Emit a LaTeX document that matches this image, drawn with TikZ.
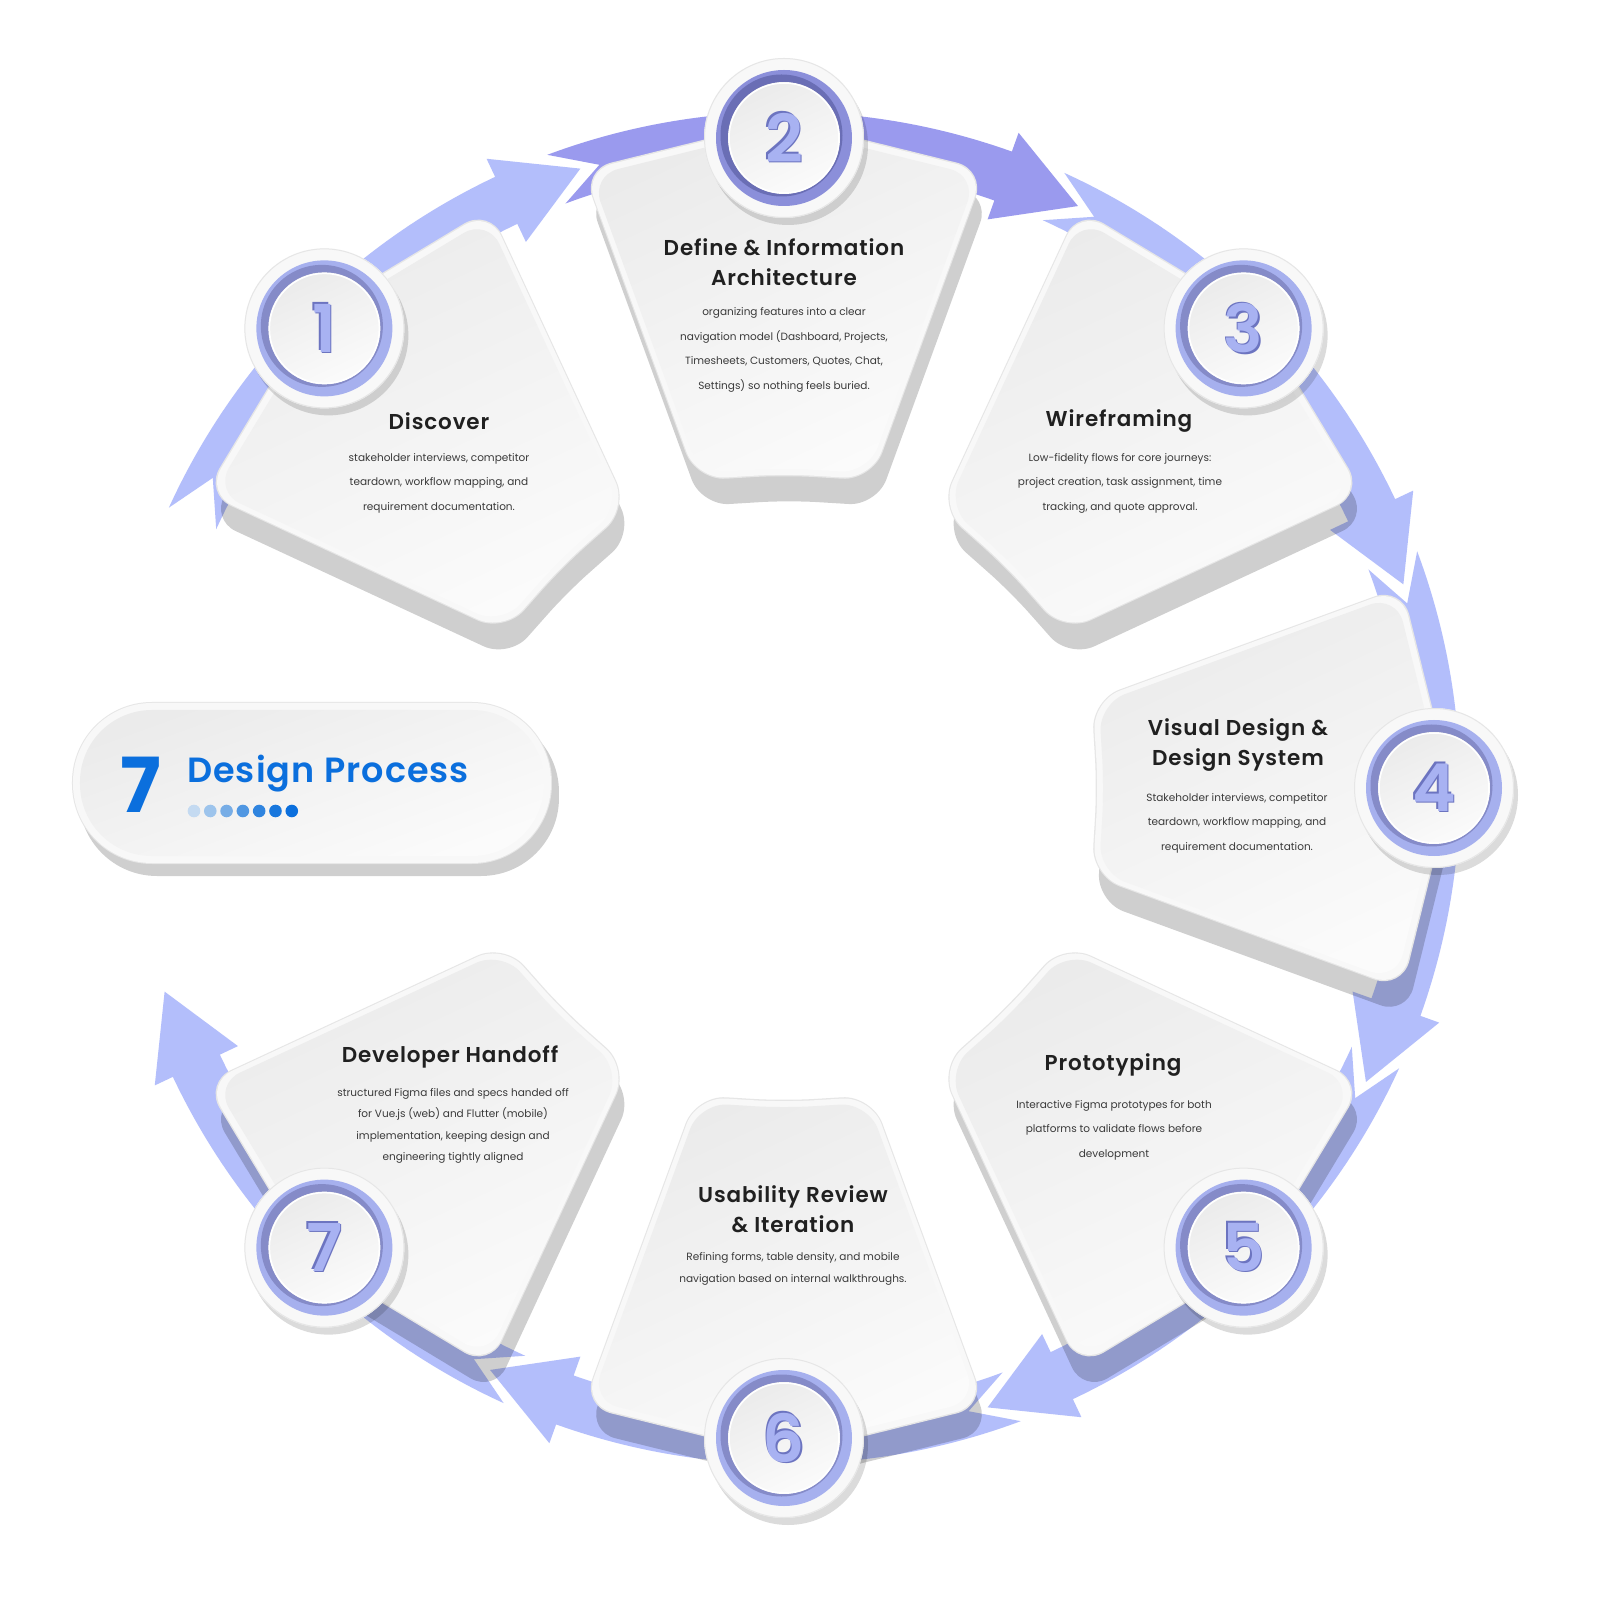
\documentclass[tikz,border=0pt]{standalone}
\usepackage{fontspec}
\setmainfont{Poppins}
\newfontfamily\headfont{Poppins SemiBold}[LetterSpace=4]
\newfontfamily\numfont{Poppins SemiBold}
\definecolor{bandlight}{HTML}{B3BEFB}
\definecolor{banddark}{HTML}{9A9AEE}
\definecolor{ringA}{HTML}{A6B0EE}
\definecolor{ringAd}{HTML}{858BC8}
\definecolor{ringB}{HTML}{8B8FDA}
\definecolor{ringBd}{HTML}{6A6EB5}
\definecolor{digitc}{HTML}{A8B2F2}
\definecolor{digitd}{HTML}{6C74C0}
\definecolor{cardA}{HTML}{EBEBEB}
\definecolor{cardB}{HTML}{FBFBFB}
\definecolor{rimc}{HTML}{F8F8F8}
\definecolor{edgec}{HTML}{E6E6E6}
\definecolor{headc}{HTML}{202020}
\definecolor{bodyc}{HTML}{3A3A3A}
\definecolor{bluec}{HTML}{0B6FDD}
\definecolor{dA}{HTML}{C4DAF1}
\definecolor{dB}{HTML}{9DC4EC}
\definecolor{dC}{HTML}{77ADE6}
\definecolor{dD}{HTML}{5097E2}
\definecolor{dE}{HTML}{2F84DF}
\definecolor{dF}{HTML}{1877DD}
\definecolor{dG}{HTML}{0B6FDD}
\tikzset{
  headtxt/.style={text=headc, align=center, font=\headfont\fontsize{21.5}{30}\selectfont},
  bodytxt/.style={text=bodyc, align=center, font=\fontsize{10.5}{24.5}\selectfont},
  digittxt/.style={font=\numfont\fontsize{66}{66}\selectfont, inner sep=0pt},
}
\newcommand\cp[1]{(#1+17.5:642) -- (#1:660) -- (#1-17.5:642) -- (#1-15:326) -- (#1:320) -- (#1+15:326) -- cycle}
\newcommand\seg[3]{%
  \fill[#3] (#1-2:676) arc[start angle=#1-2, end angle=#2+2.8, radius=676]
    -- (#2+2.8:696) -- (#2-4.3:652) -- (#2+2.8:604) -- (#2+2.8:624)
    arc[start angle=#2+2.8, end angle=#1-2, radius=624] -- (#1-6:650) -- cycle;}
\newcommand\cardshadow[1]{%
  \fill[black,opacity=0.19,rounded corners=28pt,shift={(5,-26)},scale around={1.04:(#1:480)}] \cp{#1};}
\newcommand\cardbody[1]{%
  \fill[edgec,rounded corners=30pt,scale around={1.045:(#1:480)}] \cp{#1};
  \fill[rimc,rounded corners=29pt,scale around={1.037:(#1:480)}] \cp{#1};
  \shade[top color=cardA,bottom color=cardB,shading angle=25,rounded corners=28pt] \cp{#1};}
\newcommand\badge[5]{%
  \begin{scope}[shift={(#1:650)}]
    \fill[black,opacity=.14] (4,-7) circle[radius=80];
    \fill[rimc] (0,0) circle[radius=80];
    \draw[edgec,line width=1pt] (0,0) circle[radius=79.5];
    \fill[#3] (0,0) circle[radius=68];
    \fill[#4] (-2.5,2.5) circle[radius=61];
    \shade[top color=cardA,bottom color=cardB,shading angle=25] (0,0) circle[radius=56];
    \draw[white,line width=1.5pt] (0,0) circle[radius=55];
    \node[digittxt,text=digitd] at (-1.8,1.8) {#2};
    \node[digittxt,text=digitd] at (1.2,-1.2) {#2};
    \node[digittxt,text=digitc] (#5) at (0,0) {#2};
  \end{scope}}
\begin{document}
\begin{tikzpicture}[x=1pt,y=1pt]
\useasboundingbox (-784,-812) rectangle (816,788);
\fill[white] (-784,-812) rectangle (816,788);
% arrow band
\seg{157.5}{112.5}{bandlight}
\seg{112.5}{67.5}{banddark}
\seg{67.5}{22.5}{bandlight}
\seg{22.5}{-22.5}{bandlight}
\seg{-22.5}{-67.5}{bandlight}
\seg{-67.5}{-112.5}{bandlight}
\seg{-112.5}{-157.5}{bandlight}
% card shadows and cards
\foreach \a in {135,90,45,0,-45,-90,-135} {\cardshadow{\a}}
\foreach \a in {135,90,45,0,-45,-90,-135} {\cardbody{\a}}
% texts
\node[headtxt] (h1) at (-345,367) {Discover};
\node[bodytxt] (t1) at (-345,305) {stakeholder interviews, competitor\\teardown, workflow mapping, and\\requirement documentation.};
\node[headtxt] (h2) at (0,526) {Define \& Information\\Architecture};
\node[bodytxt] (t2) at (0,438) {organizing features into a clear\\navigation model (Dashboard, Projects,\\Timesheets, Customers, Quotes, Chat,\\Settings) so nothing feels buried.};
\node[headtxt] (h3) at (335,367) {Wireframing};
\node[bodytxt] (t3) at (336,305) {Low-fidelity flows for core journeys:\\project creation, task assignment, time\\tracking, and quote approval.};
\node[headtxt] (h4) at (454,43) {Visual Design \&\\Design System};
\node[bodytxt] (t4) at (453,-35) {Stakeholder interviews, competitor\\teardown, workflow mapping, and\\requirement documentation.};
\node[headtxt] (h5) at (329,-277) {Prototyping};
\node[bodytxt] (t5) at (330,-342) {Interactive Figma prototypes for both\\platforms to validate flows before\\development};
\node[headtxt] (h6) at (9,-421) {Usability Review\\\& Iteration};
\node[bodytxt,font=\fontsize{10.5}{22}\selectfont] (t6) at (9,-481) {Refining forms, table density, and mobile\\navigation based on internal walkthroughs.};
\node[headtxt] (h7) at (-334,-269) {Developer Handoff};
\node[bodytxt,font=\fontsize{10.5}{21.3}\selectfont] (t7) at (-331,-338) {structured Figma files and specs handed off\\for Vue.js (web) and Flutter (mobile)\\implementation, keeping design and\\engineering tightly aligned};
% badges
\badge{135}{1}{ringA}{ringAd}{b1}
\badge{90}{2}{ringB}{ringBd}{b2}
\badge{45}{3}{ringA}{ringAd}{b3}
\badge{0}{4}{ringA}{ringAd}{b4}
\badge{-45}{5}{ringA}{ringAd}{b5}
\badge{-90}{6}{ringA}{ringAd}{b6}
\badge{-135}{7}{ringA}{ringAd}{b7}
% title pill
\fill[black,opacity=.19,rounded corners=78pt] (-705,-88) rectangle (-225,74);
\fill[edgec,rounded corners=80pt] (-712,-76) rectangle (-232,86);
\fill[rimc,rounded corners=79pt] (-711,-75) rectangle (-233,85);
\shade[top color=cardA,bottom color=cardB,shading angle=20,rounded corners=72pt] (-704,-68) rectangle (-240,78);
\node[text=bluec,font=\bfseries\fontsize{76}{76}\selectfont,inner sep=0pt] (seven) at (-643,3) {7};
\node[text=bluec,font=\headfont\addfontfeatures{LetterSpace=3}\fontsize{35}{35}\selectfont,anchor=base west,inner sep=0pt] (title) at (-597,5) {Design Process};
\foreach \c [count=\i] in {dA,dB,dC,dD,dE,dF,dG} {\fill[\c] (-590+16.3*\i-16.3,-23) circle[radius=6.3];}
\end{tikzpicture}
\end{document}
